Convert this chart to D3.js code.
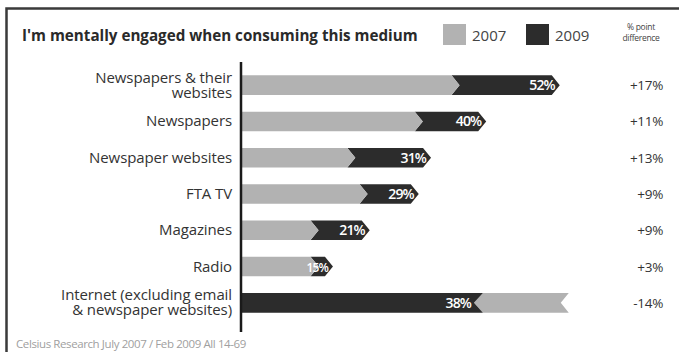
<!DOCTYPE html>
<html><head><meta charset="utf-8">
<script src="https://cdn.jsdelivr.net/npm/d3@7"></script>
<style>body{margin:0;background:#fff}svg{display:block}</style>
</head><body>
<script>
const categories = ["Newspapers & their\nwebsites","Newspapers","Newspaper websites","FTA TV","Magazines","Radio","Internet (excluding email\n& newspaper websites)"];
const values2007 = [35,29,18,20,12,12,52];
const values2009 = [52,40,31,29,21,15,38];
const diffLabels = ["+17%","+11%","+13%","+9%","+9%","+3%","-14%"];
const seriesNames = ["2007","2009"];
const colors = {"2007":"#b2b2b2","2009":"#2c2c2c"};

const W=679,H=352;
const svg=d3.select("body").append("svg").attr("width",W).attr("height",H);
const font="'Open Sans', sans-serif";

// frame
svg.append("path").attr("d",`M6.5,${H} V8.5 H${W}`).attr("fill","none").attr("stroke","#3a3a3a").attr("stroke-width",2.5);

// title
svg.append("text").attr("x",22).attr("y",40.5).attr("font-family",font).attr("font-weight",700)
  .attr("font-size",15.2).attr("fill","#2a2a2a").text("I'm mentally engaged when consuming this medium");

// legend
const legX=[443,526];
seriesNames.forEach((s,i)=>{
  svg.append("rect").attr("x",legX[i]).attr("y",24).attr("width",23).attr("height",21).attr("fill",colors[s]);
  svg.append("text").attr("x",legX[i]+29).attr("y",40.5).attr("font-family",font).attr("font-size",15)
    .attr("fill","#444").text(s);
});
const dh=svg.append("text").attr("x",641).attr("text-anchor","middle").attr("font-family",font)
  .attr("font-size",8.5).attr("fill","#444").attr("letter-spacing",-0.3);
dh.append("tspan").attr("x",641).attr("y",30).text("% point");
dh.append("tspan").attr("x",641).attr("y",41).text("difference");

// scales
const x=d3.scaleLinear().domain([0,100]).range([241,241+613]);
const y=d3.scaleBand().domain(categories).range([67,321]).paddingInner(0.46).paddingOuter(0.23);
const bw=y.bandwidth();

const rows=categories.map((c,i)=>({c,v7:values2007[i],v9:values2009[i],d:diffLabels[i]}));
const g=svg.append("g");
const d1=8; // chevron depth
rows.forEach(r=>{
  const top=y(r.c), bot=top+bw, mid=top+bw/2, x0=x(0);
  if(r.v9>=r.v7){
    const gx=x(r.v7), tx=x(r.v9);
    g.append("path").attr("fill",colors["2009"])
      .attr("d",`M${gx-4},${top}H${tx-d1}L${tx},${mid}L${tx-d1},${bot}H${gx-4}L${gx+4},${mid}Z`);
    g.append("path").attr("fill",colors["2007"])
      .attr("d",`M${x0},${top}H${gx-4}L${gx+4},${mid}L${gx-4},${bot}H${x0}Z`);
    g.append("text").attr("x",tx-5).attr("y",mid+5).attr("text-anchor","end").attr("font-family",font)
      .attr("font-weight",600).attr("font-size",r.v9-r.v7<5?12:14).attr("letter-spacing",-0.9).attr("fill","#fff").text(r.v9+"%");
  } else {
    const dx=x(r.v9), ex=x(r.v7);
    g.append("path").attr("fill",colors["2007"])
      .attr("d",`M${dx+9},${top}H${ex+9}L${ex+1},${mid}L${ex+9},${bot}H${dx+9}L${dx},${mid}Z`);
    g.append("path").attr("fill",colors["2009"])
      .attr("d",`M${x0},${top}H${dx+9}L${dx},${mid}L${dx+9},${bot}H${x0}Z`);
    g.append("text").attr("x",dx-3).attr("y",mid+5).attr("text-anchor","end").attr("font-family",font)
      .attr("font-weight",600).attr("font-size",14).attr("letter-spacing",-0.9).attr("fill","#fff").text(r.v9+"%");
  }
  // category label
  const lines=r.c.split("\n");
  const t=g.append("text").attr("text-anchor","end").attr("font-family",font).attr("font-size",15)
    .attr("fill","#333").attr("letter-spacing",-0.1);
  lines.forEach((l,k)=>{
    t.append("tspan").attr("x",232).attr("y",mid+5+(k-(lines.length-1)/2)*15).text(l);
  });
  // diff
  g.append("text").attr("x",663).attr("y",mid+5).attr("text-anchor","end").attr("font-family",font)
    .attr("font-size",13.5).attr("fill","#333").attr("letter-spacing",-0.3).text(r.d);
});

// axis line
svg.append("line").attr("x1",241).attr("x2",241).attr("y1",62).attr("y2",332).attr("stroke","#1a1a1a").attr("stroke-width",2.5);

// source
svg.append("text").attr("x",16).attr("y",347.5).attr("font-family",font).attr("font-size",11.5)
  .attr("fill","#a0a0a0").attr("letter-spacing",-0.4).text("Celsius Research July 2007 / Feb 2009 All 14-69");
</script>
</body></html>
